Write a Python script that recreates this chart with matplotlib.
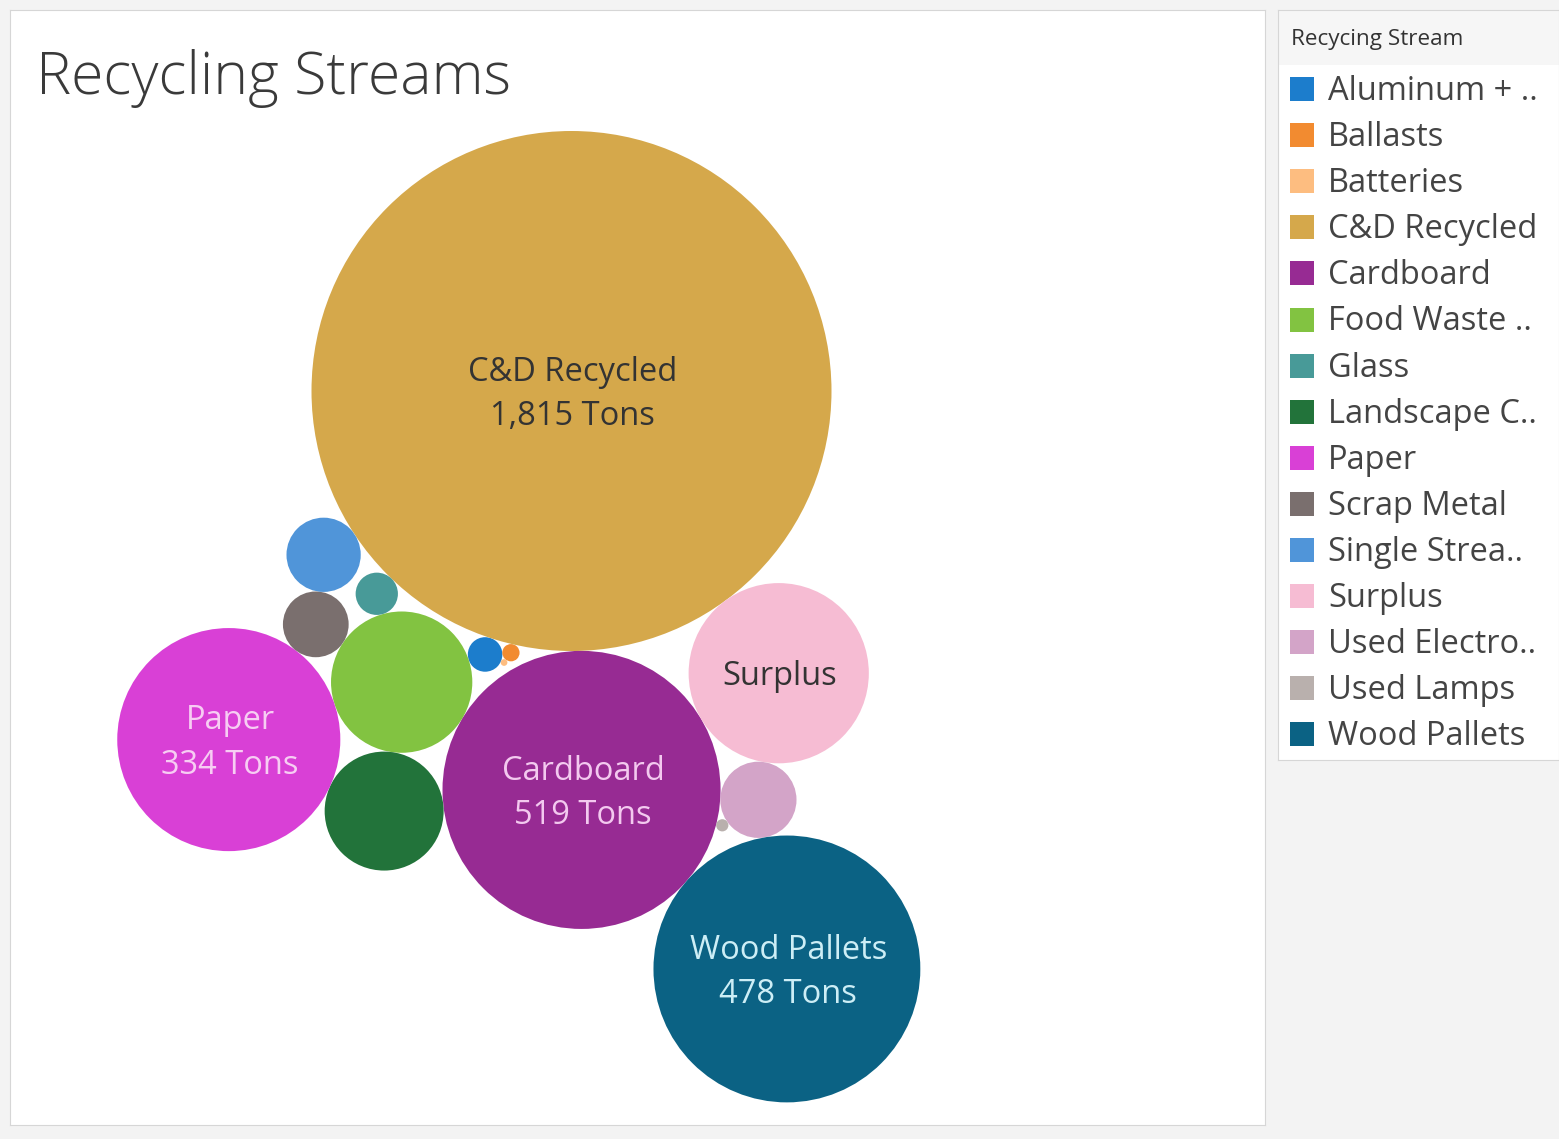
import numpy as np
import matplotlib.pyplot as plt
from matplotlib.patches import Circle, Rectangle

plt.rcParams['font.family'] = ['Open Sans', 'DejaVu Sans']

# data: tons recycled per stream (legend order)
streams = ['Aluminum + ..', 'Ballasts', 'Batteries', 'C&D Recycled', 'Cardboard',
           'Food Waste ..', 'Glass', 'Landscape C..', 'Paper', 'Scrap Metal',
           'Single Strea..', 'Surplus', 'Used Electro..', 'Used Lamps', 'Wood Pallets']
tons = [8, 2, 0.3, 1815, 519, 134, 12, 95, 334, 29, 37, 218, 39, 1, 478]
colors = ['#1c7dcc', '#f28b30', '#fdbd80', '#d5a84b', '#972b93',
          '#82c341', '#489a98', '#22733a', '#d940d6', '#7a6f6e',
          '#5095d9', '#f6bcd3', '#d3a4c8', '#b9b0ad', '#0b6284']
# which bubbles carry a label, and whether the tonnage is shown
show_name = ['C&D Recycled', 'Cardboard', 'Paper', 'Surplus', 'Wood Pallets']
show_tons = ['C&D Recycled', 'Cardboard', 'Paper', 'Wood Pallets']
text_colors = {'C&D Recycled': '#333333', 'Cardboard': '#f3c9ef', 'Paper': '#f7cdf3',
               'Surplus': '#333333', 'Wood Pallets': '#cdeef6'}

radius = {s: np.sqrt(v) for s, v in zip(streams, tons)}
color = dict(zip(streams, colors))

# bubble packing: the biggest sits at the origin, the second below it,
# every other one touches two bubbles already placed (side +1 / -1),
# pad = small gap kept to the first one
pos = {'C&D Recycled': np.array([0.0, 0.0])}
ang = np.deg2rad(-88.56)
d = radius['C&D Recycled'] + radius['Cardboard']
pos['Cardboard'] = np.array([d * np.cos(ang), d * np.sin(ang)])

packing = [
    ('Surplus', 'C&D Recycled', 'Cardboard', 1, 0),
    ('Food Waste ..', 'C&D Recycled', 'Cardboard', -1, 1.05),
    ('Landscape C..', 'Cardboard', 'Food Waste ..', 1, 0),
    ('Paper', 'Food Waste ..', 'Landscape C..', -1, 0),
    ('Used Electro..', 'Surplus', 'Cardboard', 1, 0),
    ('Wood Pallets', 'Cardboard', 'Used Electro..', -1, 0),
    ('Scrap Metal', 'Paper', 'Food Waste ..', 1, 0),
    ('Single Strea..', 'C&D Recycled', 'Scrap Metal', -1, 0),
    ('Glass', 'C&D Recycled', 'Food Waste ..', -1, 0),
    ('Aluminum + ..', 'C&D Recycled', 'Food Waste ..', 1, 0),
    ('Ballasts', 'C&D Recycled', 'Aluminum + ..', 1, 0),
    ('Batteries', 'Aluminum + ..', 'Ballasts', -1, 0),
    ('Used Lamps', 'Cardboard', 'Used Electro..', -1, 0),
]


def touch(a, b, r, side, pad=0):
    p1, p2 = pos[a], pos[b]
    d1 = radius[a] + r + pad
    d2 = radius[b] + r
    v = p2 - p1
    L = np.hypot(*v)
    u = v / L
    along = (d1 ** 2 - d2 ** 2 + L ** 2) / (2 * L)
    h = np.sqrt(max(d1 ** 2 - along ** 2, 0))
    n = np.array([-u[1], u[0]])
    return p1 + along * u + side * h * n


for name, a, b, side, pad in packing:
    pos[name] = touch(a, b, radius[name], side, pad)

W, H = 1559, 1139
fig = plt.figure(figsize=(W / 100, H / 100), dpi=100, facecolor='#f3f3f3')

# main view
ax = fig.add_axes([10 / W, (H - 1125) / H, 1255 / W, 1115 / H])
ax.set_facecolor('white')
for sp in ax.spines.values():
    sp.set_color('#d6d6d6')
ax.set_xticks([])
ax.set_yticks([])
s = 260 / radius['C&D Recycled']  # pixels per unit
cx, cy = 571.5, 391
ax.set_xlim((10 - cx) / s, (1265 - cx) / s)
ax.set_ylim((cy - 1125) / s, (cy - 10) / s)

for name in streams:
    ax.add_patch(Circle(pos[name], radius[name], facecolor=color[name],
                        edgecolor='none'))
    if name in show_name:
        txt = name
        if name in show_tons:
            txt += '\n{:,} Tons'.format(tons[streams.index(name)])
        ax.annotate(txt, xy=pos[name], xytext=(1, -2.5), textcoords='offset points',
                    ha='center', va='center', fontsize=23.5,
                    color=text_colors[name], linespacing=1.45)

fig.text(36 / W, 1 - 79 / H, 'Recycling Streams', fontsize=42.5, fontweight='light',
         color='#3a3a3a', ha='left', va='center')

# legend panel
lax = fig.add_axes([1278 / W, (H - 760) / H, 281 / W, 750 / H])
lax.set_xlim(1278, 1559)
lax.set_ylim(760, 10)
lax.set_facecolor('white')
for sp in lax.spines.values():
    sp.set_color('#d6d6d6')
lax.set_xticks([])
lax.set_yticks([])
lax.add_patch(Rectangle((1278, 10), 281, 55, facecolor='#f6f6f6', edgecolor='none'))
lax.text(1291, 40, 'Recycing Stream', fontsize=16.2, color='#333333', va='center')
for i, name in enumerate(streams):
    y = 89 + 46.1 * i
    lax.add_patch(Rectangle((1290, y - 12), 24, 24, facecolor=color[name],
                            edgecolor='none'))
    lax.text(1328, y + 2.5, name, fontsize=23.5, color='#444444', va='center')

fig.savefig('out.png', dpi=100, facecolor=fig.get_facecolor())
